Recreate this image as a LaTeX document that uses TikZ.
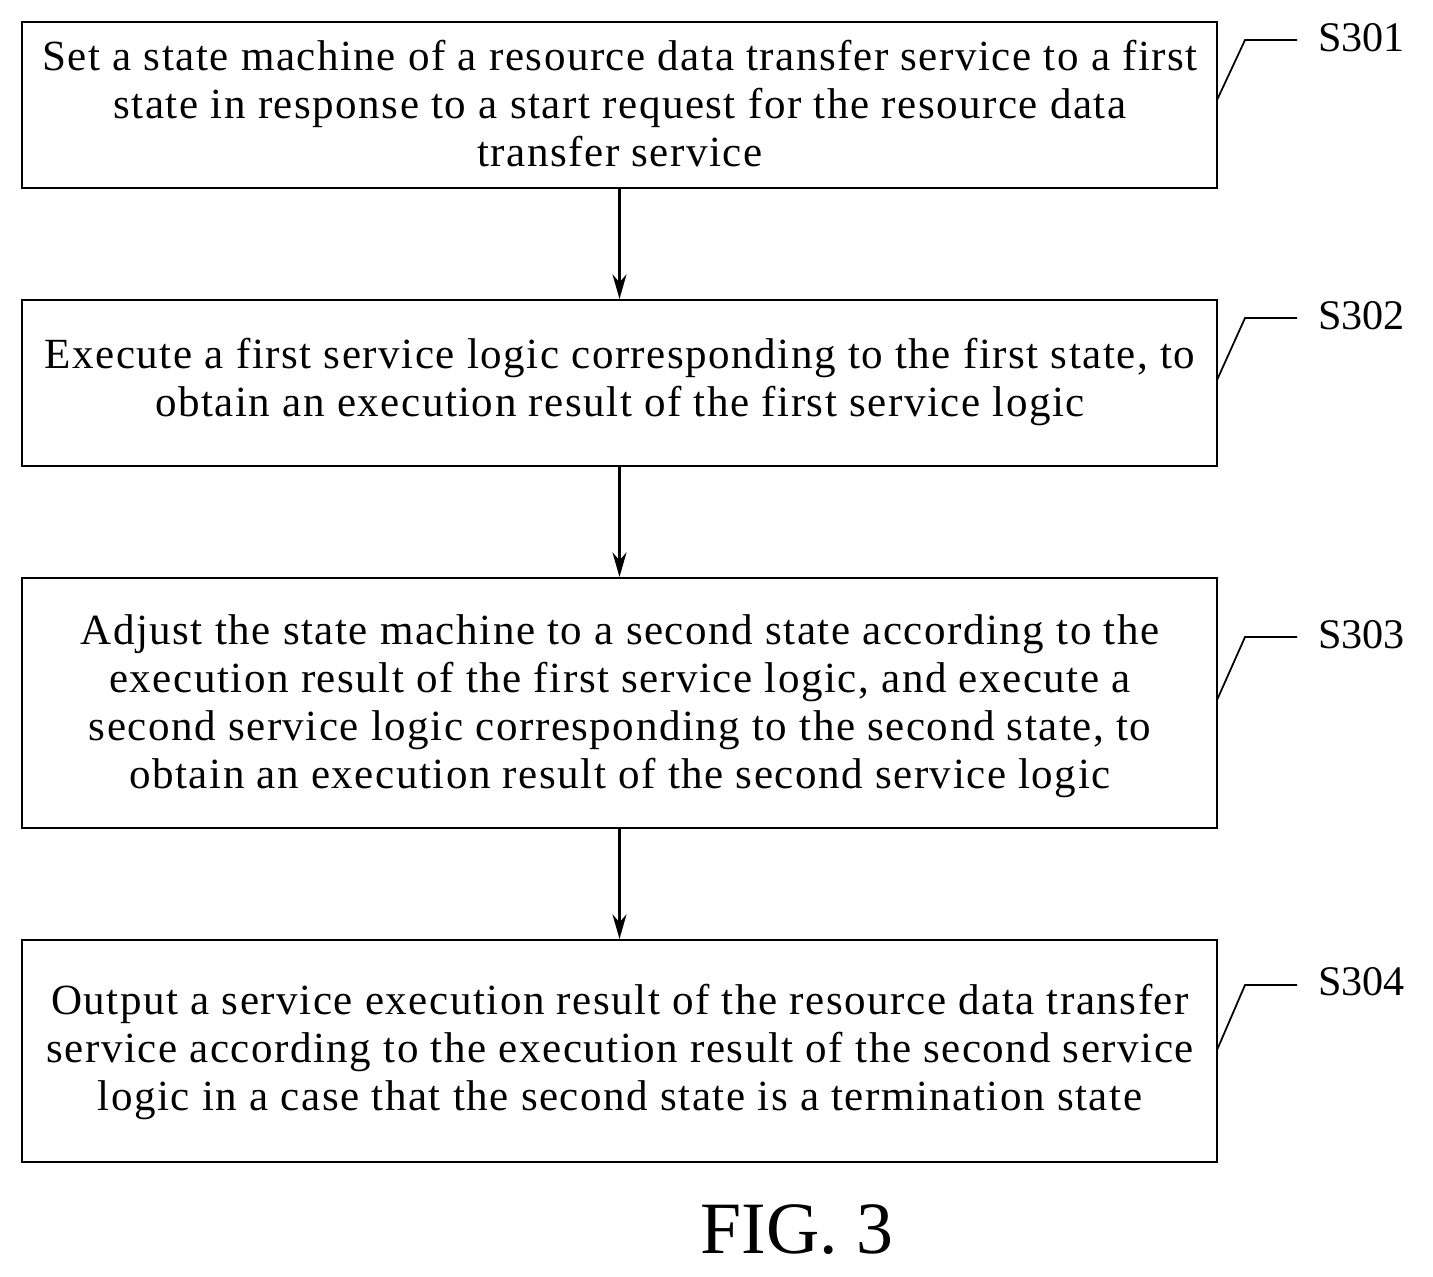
\documentclass[tikz,border=0pt]{standalone}
\usepackage{fontspec}
\setmainfont{Liberation Serif}
\newfontfamily\spaced[LetterSpace=3.5]{Liberation Serif}
\usetikzlibrary{arrows.meta}
\begin{document}
\begin{tikzpicture}[x=0.02cm,y=-0.02cm,
  box/.style={draw,line width=1.2pt,inner sep=0pt},
  txt/.style={align=center,font=\spaced\fontsize{24.5}{27.3}\selectfont},
  arr/.style={-{Stealth[length=14pt,width=8pt]},line width=1.2pt},
  lbl/.style={font=\fontsize{24}{26}\selectfont,anchor=west},
  lead/.style={line width=1pt}]
\useasboundingbox (0,0) rectangle (1433,1276);
\node[box,minimum width=1195*0.02cm,minimum height=166*0.02cm] (b1) at (619.5,105) {};
\node[box,minimum width=1195*0.02cm,minimum height=166*0.02cm] (b2) at (619.5,383) {};
\node[box,minimum width=1195*0.02cm,minimum height=250*0.02cm] (b3) at (619.5,703) {};
\node[box,minimum width=1195*0.02cm,minimum height=222*0.02cm] (b4) at (619.5,1051) {};
\node[txt] (t1) at (620,104) {Set a state machine of a resource data transfer service to a first\\state in response to a start request for the resource data\\transfer service};
\node[txt] (t2) at (620,382) {Execute a first service logic corresponding to the first state, to\\obtain an execution result of the first service logic};
\node[txt] (t3) at (620,706) {Adjust the state machine to a second state according to the\\execution result of the first service logic, and execute a\\second service logic corresponding to the second state, to\\obtain an execution result of the second service logic};
\node[txt] (t4) at (620,1052) {Output a service execution result of the resource data transfer\\service according to the execution result of the second service\\logic in a case that the second state is a termination state};
\draw[arr] (b1.south) -- (b2.north);
\draw[arr] (b2.south) -- (b3.north);
\draw[arr] (b3.south) -- (b4.north);
\node[lbl] (l1) at (1312,38) {S301};
\node[lbl] (l2) at (1312,316) {S302};
\node[lbl] (l3) at (1312,635) {S303};
\node[lbl] (l4) at (1312,982) {S304};
\coordinate (c1) at (1245,40); \coordinate (c2) at (1245,318);
\coordinate (c3) at (1245,637); \coordinate (c4) at (1245,985);
\draw[lead] (1217,100) -- (c1) -- (1297,40);
\draw[lead] (1217,380) -- (c2) -- (1297,318);
\draw[lead] (1217,700) -- (c3) -- (1297,637);
\draw[lead] (1217,1050) -- (c4) -- (1297,985);
\node[font=\fontsize{42}{48}\selectfont] (fig) at (797,1230) {FIG. 3};
\end{tikzpicture}
\end{document}
